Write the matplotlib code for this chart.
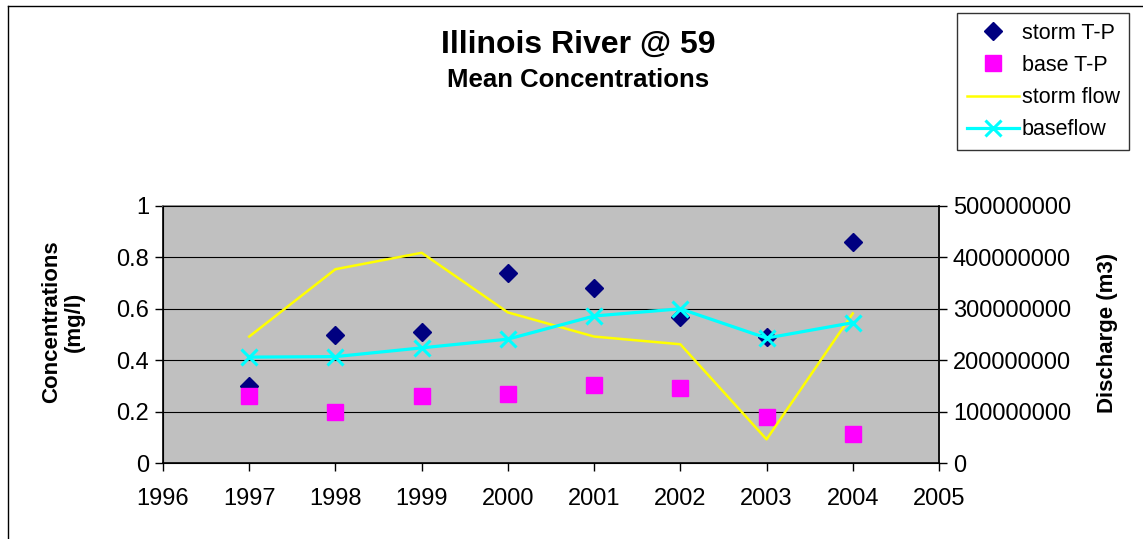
import matplotlib
matplotlib.use("Agg")
import matplotlib.pyplot as plt
from matplotlib.lines import Line2D

plt.rcParams['font.family'] = ['Liberation Sans', 'DejaVu Sans']

# data
years = [1997, 1998, 1999, 2000, 2001, 2002, 2003, 2004]
storm_tp = [0.30, 0.50, 0.51, 0.74, 0.68, 0.57, 0.49, 0.86]
base_tp = [0.26, 0.20, 0.26, 0.27, 0.305, 0.29, 0.18, 0.113]
storm_flow = [246e6, 377e6, 409e6, 293e6, 246e6, 231e6, 46e6, 291e6]
baseflow = [206e6, 207e6, 224e6, 241e6, 286e6, 300e6, 243e6, 273e6]

left_ticks = [0, 0.2, 0.4, 0.6, 0.8, 1]
left_labels = ["0", "0.2", "0.4", "0.6", "0.8", "1"]
right_ticks = [0, 1e8, 2e8, 3e8, 4e8, 5e8]
right_labels = ["0", "100000000", "200000000", "300000000", "400000000", "500000000"]
x_ticks = list(range(1996, 2006))

W, H = 1143, 539
fig = plt.figure(figsize=(W / 100, H / 100), dpi=100)

# outer chart border (top and left visible)
fig.add_artist(Line2D([8 / W, 8 / W], [0, 1 - 6 / H], color='black', lw=1.0))
fig.add_artist(Line2D([8 / W, 1], [1 - 6 / H, 1 - 6 / H], color='black', lw=1.0))

ax = fig.add_axes([163 / W, 1 - 463 / H, (939 - 163) / W, (463 - 206) / H])
ax.set_facecolor('#C0C0C0')
ax.set_xlim(1996, 2005)
ax.set_ylim(0, 1)
ax.set_xticks(x_ticks)
ax.set_xticklabels([str(x) for x in x_ticks])
ax.set_yticks(left_ticks)
ax.set_yticklabels(left_labels)
for y in left_ticks[1:-1]:
    ax.axhline(y, color='black', lw=0.8, zorder=1)
for s in ax.spines.values():
    s.set_color('#808080')
    s.set_linewidth(1.2)
ax.spines['left'].set_color('black')
ax.spines['bottom'].set_color('black')
ax.tick_params(axis='both', direction='out', length=6, width=1, labelsize=17, pad=4)
ax.tick_params(axis='x', pad=12)

ax.plot(years, storm_tp, linestyle='none', marker='D', ms=9.5, color='#000080',
        zorder=3, label='storm T-P')
ax.plot(years, base_tp, linestyle='none', marker='s', ms=11, color='#FF00FF',
        zorder=3, label='base T-P')

ax2 = ax.twinx()
ax2.set_ylim(0, 5e8)
ax2.set_yticks(right_ticks)
ax2.set_yticklabels(right_labels)
ax2.tick_params(axis='y', direction='out', length=6, width=1, labelsize=17, pad=4)
ax2.spines['right'].set_color('black')
ax2.spines['right'].set_linewidth(1.2)
ax2.plot(years, storm_flow, color='#FFFF00', lw=1.8, label='storm flow')
ax2.plot(years, baseflow, color='#00FFFF', lw=2.3, marker='x', ms=12, mew=2.2,
         label='baseflow')

fig.text(578 / W, 1 - 45 / H, "Illinois River @ 59", ha='center', va='center',
         fontsize=23, fontweight='bold')
fig.text(578 / W, 1 - 80 / H, "Mean Concentrations", ha='center', va='center',
         fontsize=18.5, fontweight='bold')
fig.text(63 / W, 1 - 322 / H, "Concentrations\n(mg/l)", ha='center', va='center',
         rotation=90, fontsize=16, fontweight='bold', linespacing=1.1)
fig.text(1107 / W, 1 - 333 / H, "Discharge (m3)", ha='center', va='center',
         rotation=90, fontsize=16, fontweight='bold')

h1, l1 = ax.get_legend_handles_labels()
h2, l2 = ax2.get_legend_handles_labels()
leg = fig.legend(h1 + h2, l1 + l2, loc='upper left',
                 bbox_to_anchor=(957 / W, 1 - 13 / H), fontsize=15.5,
                 frameon=True, fancybox=False, edgecolor='black',
                 borderpad=0.45, labelspacing=0.52, handlelength=2.45,
                 handletextpad=0.1, borderaxespad=0)
leg.get_frame().set_linewidth(1.0)

fig.savefig("out.png", dpi=100)
